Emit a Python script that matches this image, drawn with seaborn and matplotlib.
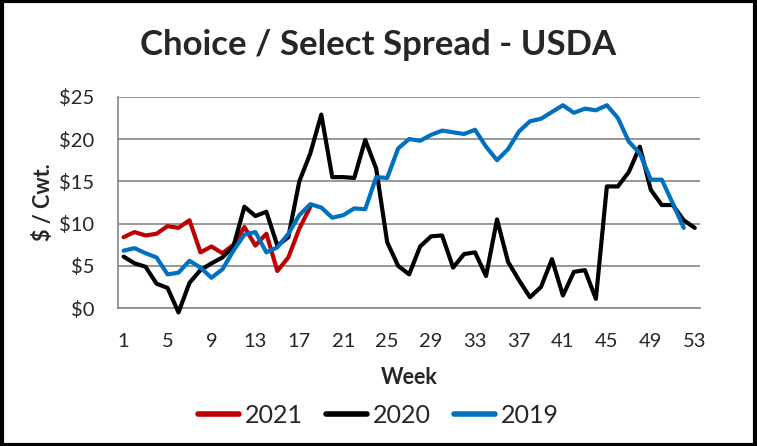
import numpy as np
import pandas as pd
import matplotlib
matplotlib.use("Agg")
import matplotlib.pyplot as plt
import matplotlib.patches as mpatches
from matplotlib.lines import Line2D
from matplotlib.ticker import MultipleLocator, FixedLocator
import seaborn as sns

# ---------------------------------------------------------
# DATA - weekly Choice/Select spread ($/cwt)
# ---------------------------------------------------------
y2021 = [8.4, 9.0, 8.6, 8.8, 9.7, 9.5, 10.4, 6.6, 7.3, 6.5,
         7.5, 9.6, 7.4, 8.8, 4.4, 6.0, 9.4, 12.0]
y2020 = [6.1, 5.3, 4.9, 2.9, 2.4, -0.5, 3.0, 4.5, 5.3, 6.0,
         7.3, 12.0, 10.9, 11.4, 7.4, 8.4, 15.0, 18.3, 22.9, 15.5,
         15.5, 15.4, 19.9, 16.5, 7.8, 5.0, 4.0, 7.3, 8.5, 8.6,
         4.8, 6.4, 6.6, 3.8, 10.5, 5.5, 3.3, 1.3, 2.5, 5.8,
         1.5, 4.3, 4.5, 1.1, 14.4, 14.4, 16.1, 19.1, 14.0, 12.2,
         12.2, 10.4, 9.5]
y2019 = [6.8, 7.1, 6.5, 6.0, 4.0, 4.2, 5.6, 4.8, 3.6, 4.6,
         6.8, 8.7, 9.0, 6.6, 7.2, 8.8, 11.0, 12.3, 11.9, 10.7,
         11.0, 11.8, 11.7, 15.5, 15.4, 18.9, 20.0, 19.8, 20.5, 21.0,
         20.8, 20.6, 21.1, 19.1, 17.5, 18.8, 20.9, 22.1, 22.4, 23.2,
         24.0, 23.1, 23.6, 23.4, 24.0, 22.5, 19.7, 18.3, 15.2, 15.2,
         12.4, 9.5]
years = ["2021", "2020", "2019"]
week_ticks = list(range(1, 54, 4))

COLORS = {"2021": "#C00000", "2020": "#000000", "2019": "#0070C0"}
GRID = "#868686"

frames = []
for yr, vals in zip(years, [y2021, y2020, y2019]):
    frames.append(pd.DataFrame({"Week": np.arange(1, len(vals) + 1),
                                "Spread": vals, "Year": yr}))
df = pd.concat(frames, ignore_index=True)

# ---------------------------------------------------------
# PLOT
# ---------------------------------------------------------
sns.set_style("white")
plt.rcParams["font.family"] = ["Lato", "DejaVu Sans"]

fig = plt.figure(figsize=(7.57, 4.46), dpi=100)
ax = fig.add_axes([0.156, 0.309, 0.769, 0.474])

sns.lineplot(data=df, x="Week", y="Spread", hue="Year", hue_order=years,
             palette=COLORS, linewidth=3, legend=False, ax=ax, zorder=3)
for ln in ax.lines:
    ln.set_clip_on(False)
    ln.set_solid_joinstyle("round")

ax.set_xlim(0.5, 53.5)
ax.set_ylim(0, 25)
ax.xaxis.set_major_locator(FixedLocator(week_ticks))
ax.xaxis.set_minor_locator(MultipleLocator(1, offset=0.5))
ax.yaxis.set_major_locator(MultipleLocator(5))
ax.set_yticklabels([f"${int(v)}" for v in ax.get_yticks()])
ax.yaxis.grid(True, color=GRID, linewidth=1.2)
ax.set_axisbelow(True)

for s in ["top", "right"]:
    ax.spines[s].set_visible(False)
for s in ["left", "bottom"]:
    ax.spines[s].set_color(GRID)
    ax.spines[s].set_linewidth(1.2)

ax.tick_params(axis="x", which="major", length=0, labelsize=14.5, pad=18)
ax.tick_params(axis="x", which="minor", length=5, width=1.2, color=GRID,
               direction="out")
ax.tick_params(axis="y", length=5, width=1.2, color=GRID, labelsize=14.5,
               pad=12)

ax.set_xlabel("Week", fontsize=15.5, fontweight="bold", labelpad=12)
ax.set_ylabel("$ / Cwt.", fontsize=15.5, fontweight="bold", labelpad=4)
fig.suptitle("Choice / Select Spread - USDA", fontsize=25, fontweight="bold",
             y=0.935)

handles = [Line2D([], [], color=COLORS[y], linewidth=4, solid_capstyle="round")
           for y in years]
fig.legend(handles, years, loc="center", bbox_to_anchor=(0.5, 0.068),
           ncol=3, frameon=False, fontsize=18, handlelength=1.65,
           handletextpad=0.25, columnspacing=0.9)

fig.patches.append(mpatches.Rectangle((0.002, 0.003), 0.996, 0.994,
                                      transform=fig.transFigure, fill=False,
                                      edgecolor="black", linewidth=3))

plt.savefig("out.png", dpi=100)
plt.close()
